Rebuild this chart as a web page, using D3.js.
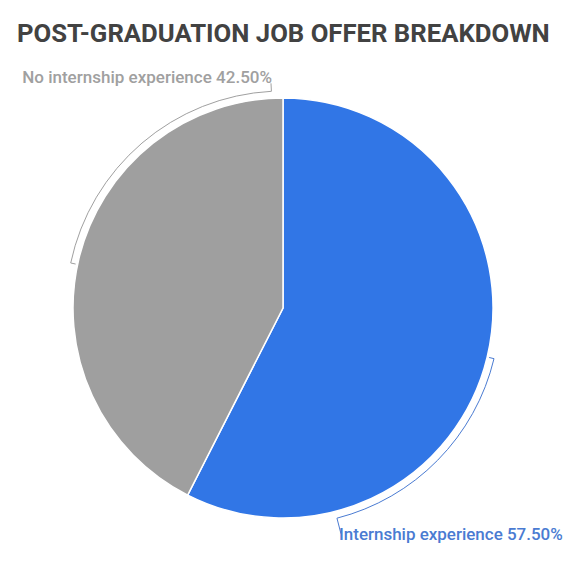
<!DOCTYPE html>
<html><head><meta charset="utf-8">
<script src="https://cdn.jsdelivr.net/npm/d3@7"></script>
<style>body{margin:0;background:#fff}svg{display:block}</style>
</head><body>
<script>
const title = "POST-GRADUATION JOB OFFER BREAKDOWN";
const categories = ["Internship experience", "No internship experience"];
const values = [57.5, 42.5];
const colors = ["#3176e6", "#9f9f9f"];
const labelColors = ["#4a7bd2", "#a0a0a0"];

const W = 575, H = 562;
const cx = 283, cy = 308, R = 210, RB = 217;
const svg = d3.select("body").append("svg").attr("width", W).attr("height", H);

svg.append("text").attr("x", 17).attr("y", 42)
  .attr("font-family", "Roboto").attr("font-weight", 700).attr("font-size", 25.7)
  .attr("fill", "#424242").text(title);

const pie = d3.pie().sort(null).value(d => d)(values);
const arc = d3.arc().innerRadius(0).outerRadius(R);
const g = svg.append("g").attr("transform", `translate(${cx},${cy})`);
g.selectAll("path.slice").data(pie).join("path").attr("class", "slice")
  .attr("d", arc).attr("fill", (d, i) => colors[i])
  .attr("stroke", "#fff").attr("stroke-width", 1.5);

// bracket spans as fractions of each slice
const bracketFrac = [[0.5, 0.8], [0.49, 0.98]];
pie.forEach((d, i) => {
  const span = d.endAngle - d.startAngle;
  const a0 = d.startAngle + span * bracketFrac[i][0];
  const a1 = d.startAngle + span * bracketFrac[i][1];
  const pt = (a, r) => [r * Math.sin(a), -r * Math.cos(a)];
  const p = d3.path();
  const s0 = pt(a0, RB - 5), s1 = pt(a0, RB);
  p.moveTo(...s0); p.lineTo(...s1);
  p.arc(0, 0, RB, a0 - Math.PI / 2, a1 - Math.PI / 2, false);
  const e1 = pt(a1, RB + (i === 0 ? 16 : 8));
  p.lineTo(...e1);
  g.append("path").attr("d", p.toString()).attr("fill", "none")
    .attr("stroke", labelColors[i]).attr("stroke-width", 1);
});

const pct = d3.format(".2f");
const fit = (sel, w) => { const l = sel.node().getComputedTextLength(); sel.attr("font-size", 16.5 * w / l); };
const t1 = svg.append("text").attr("x", 339).attr("y", 540)
  .attr("font-family", "Roboto").attr("font-weight", 500).attr("font-size", 16.5).attr("fill", labelColors[0])
  .text(`${categories[0]} ${pct(values[0])}%`);
fit(t1, 224);
const t2 = svg.append("text").attr("x", 272).attr("y", 83).attr("text-anchor", "end")
  .attr("font-family", "Roboto").attr("font-weight", 500).attr("font-size", 16.5).attr("fill", labelColors[1])
  .text(`${categories[1]} ${pct(values[1])}%`);
fit(t2, 250);
</script>
</body></html>
